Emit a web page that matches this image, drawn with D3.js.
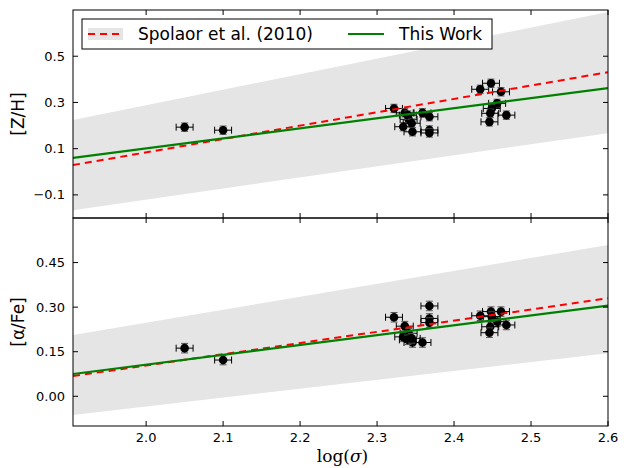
<!DOCTYPE html>
<html>
<head>
<meta charset="utf-8">
<script src="https://cdn.jsdelivr.net/npm/d3@7"></script>
<style>
  body { margin: 0; background: #fff; }
  svg text { font-family: "DejaVu Sans", sans-serif; }
</style>
</head>
<body>
<svg id="chart" width="629" height="468"></svg>
<script>
// galaxies: log(sigma), [Z/H], [alpha/Fe]
var logSigma = [2.050, 2.100, 2.322, 2.336, 2.341, 2.334, 2.346, 2.359, 2.368, 2.368, 2.368, 2.340, 2.345,
                2.434, 2.448, 2.461, 2.456, 2.449, 2.447, 2.446, 2.468]
var zh  = [0.193, 0.180, 0.274, 0.255, 0.227, 0.195, 0.173, 0.255, 0.238, 0.181, 0.168, 0.245, 0.210,
           0.357, 0.383, 0.346, 0.296, 0.274, 0.253, 0.216, 0.245]
var afe = [0.162, 0.122, 0.266, 0.236, 0.212, 0.200, 0.181, 0.181, 0.304, 0.262, 0.248, 0.190, 0.195,
           0.271, 0.285, 0.285, 0.251, 0.268, 0.234, 0.214, 0.240]
var sigmaErr = 0.011
var zhErr = 0.018
var afeErr = 0.016

// fitted relations, value at the left and right x limit
var xLim = [1.905, 2.6]
var zhThisWork  = [0.060, 0.362]
var zhSpolaor   = [0.029, 0.431]
var zhBandHi    = [0.224, 0.691]
var zhBandLo    = [-0.166, 0.167]
var afeThisWork = [0.075, 0.305]
var afeSpolaor  = [0.068, 0.330]
var afeBandHi   = [0.206, 0.509]
var afeBandLo   = [-0.063, 0.145]

var xTicks = [2.0, 2.1, 2.2, 2.3, 2.4, 2.5, 2.6]
var zhTicks = [0.5, 0.3, 0.1, -0.1]
var afeTicks = [0.45, 0.30, 0.15, 0.00]

var svg = d3.select('#chart')
var left = 73, right = 608
var x = d3.scaleLinear().domain(xLim).range([left, right])

var panels = [
  { top: 10, bottom: 218, dom: [-0.2, 0.7], vals: zh, err: zhErr, fit: zhThisWork, sp: zhSpolaor,
    hi: zhBandHi, lo: zhBandLo, ticks: zhTicks, fmt: d3.format('.1f'), label: '[Z/H]' },
  { top: 218, bottom: 426, dom: [-0.1, 0.6], vals: afe, err: afeErr, fit: afeThisWork, sp: afeSpolaor,
    hi: afeBandHi, lo: afeBandLo, ticks: afeTicks, fmt: d3.format('.2f'), label: '[α/Fe]' }
]

var defs = svg.append('defs')

panels.forEach(function(p, k) {
  var y = d3.scaleLinear().domain(p.dom).range([p.bottom, p.top])
  var g = svg.append('g')
  defs.append('clipPath').attr('id', 'clip' + k).append('rect')
    .attr('x', left).attr('y', p.top).attr('width', right - left).attr('height', p.bottom - p.top)
  var plot = g.append('g').attr('clip-path', 'url(#clip' + k + ')')

  // scatter band of Spolaor et al.
  var band = d3.area().x(function(d, i) { return x(xLim[i]) })
    .y0(function(d, i) { return y(p.lo[i]) }).y1(function(d, i) { return y(p.hi[i]) })
  plot.append('path').datum([0, 1]).attr('d', band).attr('fill', '#e5e5e5')

  var line = d3.line().x(function(d, i) { return x(xLim[i]) }).y(function(d) { return y(d) })

  // data points with error bars
  var pts = plot.append('g').selectAll('g').data(logSigma).enter().append('g')
  pts.append('line')
    .attr('x1', function(d) { return x(d - sigmaErr) }).attr('x2', function(d) { return x(d + sigmaErr) })
    .attr('y1', function(d, i) { return y(p.vals[i]) }).attr('y2', function(d, i) { return y(p.vals[i]) })
    .attr('stroke', '#000').attr('stroke-width', 1)
  pts.append('line')
    .attr('x1', function(d) { return x(d) }).attr('x2', function(d) { return x(d) })
    .attr('y1', function(d, i) { return y(p.vals[i] - p.err) }).attr('y2', function(d, i) { return y(p.vals[i] + p.err) })
    .attr('stroke', '#000').attr('stroke-width', 1)
  // caps
  ;[-1, 1].forEach(function(s) {
    pts.append('line')
      .attr('x1', function(d) { return x(d + s * sigmaErr) }).attr('x2', function(d) { return x(d + s * sigmaErr) })
      .attr('y1', function(d, i) { return y(p.vals[i]) - 3.5 }).attr('y2', function(d, i) { return y(p.vals[i]) + 3.5 })
      .attr('stroke', '#000').attr('stroke-width', 1)
    pts.append('line')
      .attr('x1', function(d) { return x(d) - 3.5 }).attr('x2', function(d) { return x(d) + 3.5 })
      .attr('y1', function(d, i) { return y(p.vals[i] + s * p.err) }).attr('y2', function(d, i) { return y(p.vals[i] + s * p.err) })
      .attr('stroke', '#555').attr('stroke-width', 1)
  })
  pts.append('circle')
    .attr('cx', function(d) { return x(d) }).attr('cy', function(d, i) { return y(p.vals[i]) })
    .attr('r', 4.3).attr('fill', '#000')

  plot.append('path').datum(p.sp).attr('d', line).attr('fill', 'none')
    .attr('stroke', 'red').attr('stroke-width', 2).attr('stroke-dasharray', '7,5')
  plot.append('path').datum(p.fit).attr('d', line).attr('fill', 'none')
    .attr('stroke', 'green').attr('stroke-width', 2.2)

  // ticks on all four sides, pointing in
  g.selectAll('.xt').data(xTicks).enter().append('path')
    .attr('d', function(d) { return 'M' + x(d) + ',' + p.bottom + 'v-5M' + x(d) + ',' + p.top + 'v5' })
    .attr('stroke', '#000')
  g.selectAll('.yt').data(p.ticks).enter().append('path')
    .attr('d', function(d) { return 'M' + left + ',' + y(d) + 'h5M' + right + ',' + y(d) + 'h-5' })
    .attr('stroke', '#000')
  g.selectAll('.yl').data(p.ticks).enter().append('text')
    .attr('x', left - 8).attr('y', function(d) { return y(d) })
    .attr('dy', '0.35em').attr('text-anchor', 'end').attr('font-size', 13)
    .text(function(d) { return p.fmt(d) })

  g.append('rect').attr('x', left).attr('y', p.top).attr('width', right - left).attr('height', p.bottom - p.top)
    .attr('fill', 'none').attr('stroke', '#000').attr('stroke-width', 1)

  g.append('text').attr('transform', 'translate(24,' + (p.top + p.bottom) / 2 + ') rotate(-90)')
    .attr('text-anchor', 'middle').attr('font-size', 17).text(p.label)
})

// x tick labels on the bottom panel
svg.selectAll('.xl').data(xTicks).enter().append('text')
  .attr('x', function(d) { return x(d) }).attr('y', 442)
  .attr('text-anchor', 'middle').attr('font-size', 13)
  .text(function(d) { return d.toFixed(1) })

var xl = svg.append('text').attr('x', (left + right) / 2 + 2).attr('y', 462)
  .attr('text-anchor', 'middle').attr('font-size', 17)
  .style('font-family', '"DejaVu Serif", serif')
xl.append('tspan').text('log(')
xl.append('tspan').attr('font-style', 'italic').text('σ')
xl.append('tspan').text(')')

// legend
var lg = svg.append('g')
lg.append('rect').attr('x', 82).attr('y', 19).attr('width', 410).attr('height', 30)
  .attr('fill', '#fff').attr('stroke', '#000').attr('stroke-width', 1)
lg.append('rect').attr('x', 88).attr('y', 28).attr('width', 35).attr('height', 12).attr('fill', '#e5e5e5')
lg.append('line').attr('x1', 88).attr('x2', 123).attr('y1', 34).attr('y2', 34)
  .attr('stroke', 'red').attr('stroke-width', 2).attr('stroke-dasharray', '7,5')
lg.append('text').attr('x', 138).attr('y', 34).attr('dy', '0.35em').attr('font-size', 17)
  .text('Spolaor et al. (2010)')
lg.append('line').attr('x1', 348).attr('x2', 384).attr('y1', 34).attr('y2', 34)
  .attr('stroke', 'green').attr('stroke-width', 2.2)
lg.append('text').attr('x', 399).attr('y', 34).attr('dy', '0.35em').attr('font-size', 17)
  .text('This Work')
</script>
</body>
</html>
